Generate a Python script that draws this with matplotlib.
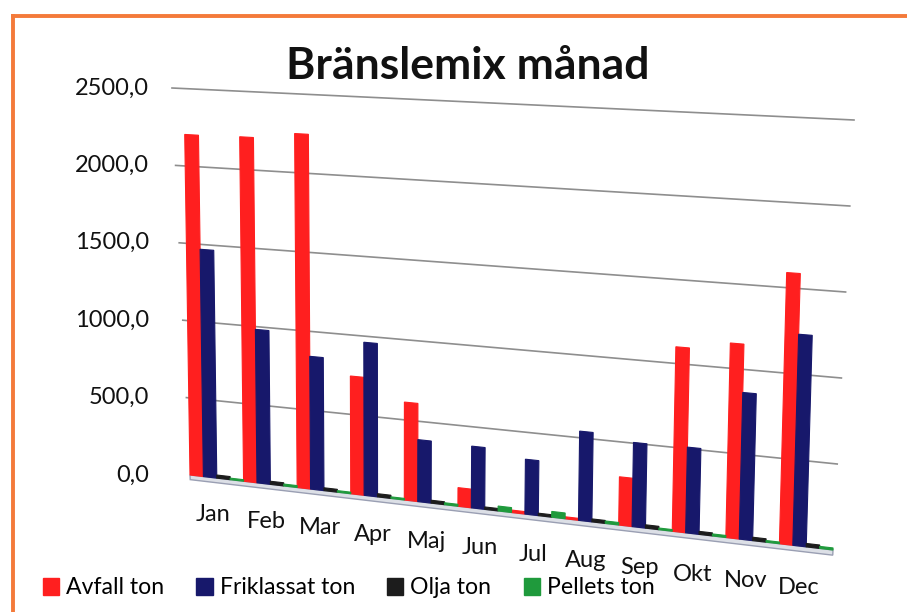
import numpy as np
import matplotlib
matplotlib.use("Agg")
import matplotlib.pyplot as plt
from matplotlib.transforms import Transform
from matplotlib.patches import Patch
from matplotlib.lines import Line2D

plt.rcParams["font.family"] = ["Lato", "DejaVu Sans"]

months = ["Jan", "Feb", "Mar", "Apr", "Maj", "Jun", "Jul", "Aug", "Sep", "Okt", "Nov", "Dec"]
avfall = [2200, 2205, 2245, 740, 610, 115, 15, 12, 290, 1100, 1150, 1590]
friklassat = [1465, 980, 840, 960, 385, 380, 335, 540, 505, 510, 865, 1235]
olja = [20, 20, 18, 20, 18, 15, 15, 18, 20, 18, 20, 20]
pellets = [10, 12, 10, 10, 12, 30, 35, 15, 10, 12, 10, 12]
series = ["Avfall ton", "Friklassat ton", "Olja ton", "Pellets ton"]
colors = ["#ff1f1f", "#17186b", "#1c1c1c", "#1f9a3c"]
yticks = [0, 500, 1000, 1500, 2000, 2500]

W, H = 907, 612


class Tilt(Transform):
    """bilinear map of the (x, value) plane onto a tilted quad, in figure fraction"""
    input_dims = output_dims = 2
    is_separable = False
    has_inverse = False

    def __init__(self, x0, x1, ymax, bl, br, tl, tr):
        super().__init__()
        self.x0, self.x1, self.ymax = x0, x1, ymax
        self.c = [np.array(p, float) for p in (bl, br, tl, tr)]

    def transform_non_affine(self, values):
        v = np.asarray(values, dtype=float).reshape(-1, 2)
        u = ((v[:, 0] - self.x0) / (self.x1 - self.x0))[:, None]
        t = (v[:, 1] / self.ymax)[:, None]
        bl, br, tl, tr = self.c
        p = (1-u)*(1-t)*bl + u*(1-t)*br + (1-u)*t*tl + u*t*tr
        return np.column_stack([p[:, 0] / W, 1 - p[:, 1] / H])


fig = plt.figure(figsize=(W / 100, H / 100), dpi=100)
ax = fig.add_axes([0, 0, 1, 1])
ax.set_axis_off()
ax.set_xlim(0, 1)
ax.set_ylim(0, 1)

x0, x1, ymax = -0.5, len(months) - 0.5, 2500
wall = Tilt(x0, x1, ymax, (190, 475), (833, 550), (172, 88), (854, 120))
front = Tilt(x0, x1, ymax, (190, 475), (833, 550), (184, 88), (846, 120))
T = wall + fig.transFigure
TB = front + fig.transFigure

# gridlines + tick labels
for v in yticks:
    if v > 0:
        ax.plot([x0, x1], [v, v], color="#8e8e8e", lw=1.2, transform=T, zorder=1)
    yy = wall.transform(np.array([[x0, v]]))[0, 1]
    ax.text(149 / W, yy, f"{v:.1f}".replace(".", ","), transform=fig.transFigure,
            ha="right", va="center", fontsize=17, color="#111111")

# floor strip
ax.fill([x0, x1, x1, x0], [0, 0, -30, -30], facecolor="#dcdfe6",
        edgecolor="#9a9fb3", lw=1, transform=T, zorder=2)

x = np.arange(len(months))
w = 0.25
for k, (vals, col) in enumerate(zip([avfall, friklassat, olja, pellets], colors)):
    ax.bar(x + (k - 1.5) * w, vals, width=w, color=col, edgecolor=col, lw=0.8,
           transform=TB, zorder=3 + k)

for i, m in enumerate(months):
    ax.text(i - 0.1, -240, m, transform=T, ha="center", va="center",
            fontsize=17, color="#111111")

fig.text(468 / W, 1 - 66 / H, "Bränslemix månad", ha="center", va="center",
         fontsize=32, fontweight="bold", color="#111111")

handles = [Patch(facecolor=c, edgecolor=c) for c in colors]
fig.legend(handles, series, ncol=4, loc="center left",
           bbox_to_anchor=(43 / W, 1 - 588 / H), frameon=False, fontsize=16.6,
           handlelength=0.7, handleheight=0.7, handletextpad=0.3,
           columnspacing=1.4, borderaxespad=0, borderpad=0)

# orange frame
fig.add_artist(Line2D([13 / W, 13 / W], [0, 1 - 16 / H], color="#f47a3a", lw=2.8))
fig.add_artist(Line2D([13 / W, 1], [1 - 16 / H, 1 - 16 / H], color="#f47a3a", lw=2.8))

fig.savefig("out.png", dpi=100)
